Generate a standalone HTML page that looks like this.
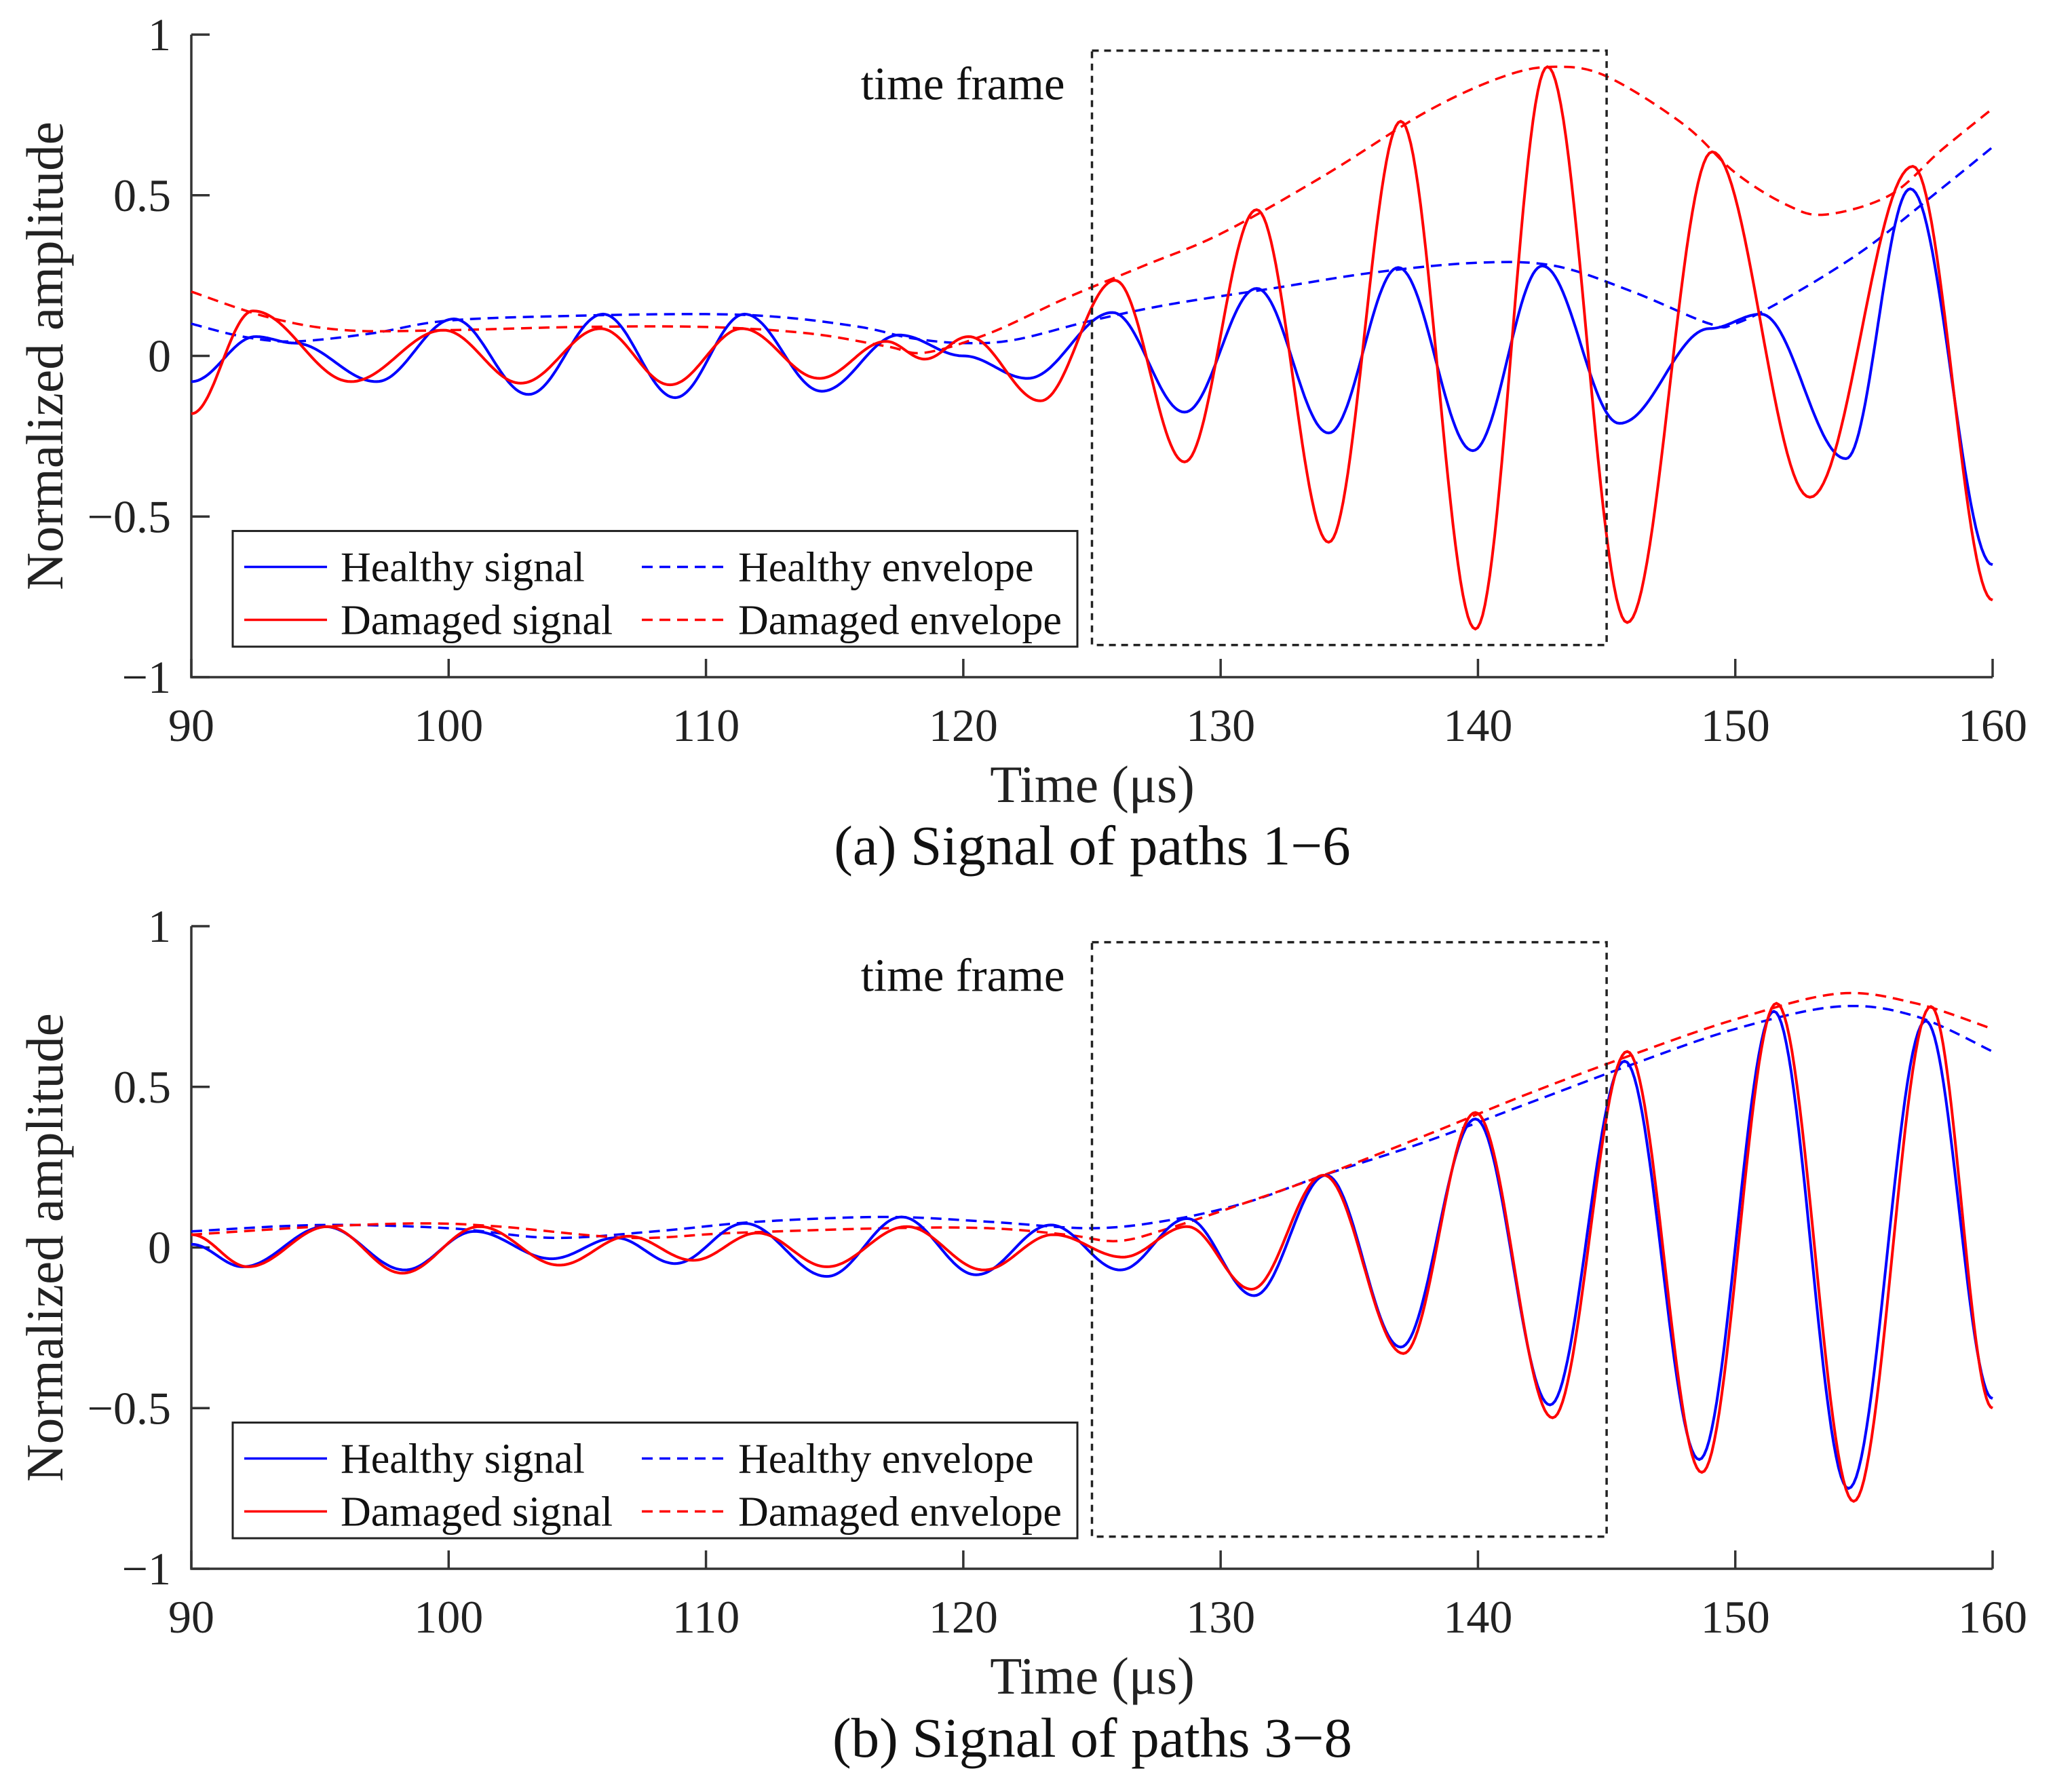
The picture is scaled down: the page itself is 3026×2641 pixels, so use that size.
<!DOCTYPE html>
<html><head><meta charset="utf-8"><style>
html,body{margin:0;padding:0;background:#fff;}
svg{display:block;font-family:"Liberation Serif",serif;}
</style></head><body>
<svg id="chart" width="3026" height="2641" viewBox="0 0 3026 2641"></svg>
<script>
// ----- Panel (a) data: paths 1-6 -----
const aHealthyT = [90,92.5,94,97.2,100.2,103.1,106,108.8,111.5,114.5,117.5,120,122.5,125.8,128.6,131.4,134.2,136.9,139.8,142.5,145.5,149,151,154.3,156.8,160];
const aHealthyV = [-0.08,0.06,0.04,-0.08,0.115,-0.12,0.13,-0.13,0.13,-0.11,0.065,0.0,-0.07,0.135,-0.175,0.21,-0.24,0.275,-0.295,0.28,-0.21,0.085,0.13,-0.32,0.52,-0.65];
const aDamagedT = [90,92.4,96.2,99.8,102.8,105.9,108.6,111.4,114.4,117,118.5,120.2,123,125.9,128.6,131.4,134.2,137,139.9,142.7,145.8,149.1,152.9,156.9,160];
const aDamagedV = [-0.18,0.14,-0.08,0.08,-0.085,0.085,-0.09,0.085,-0.07,0.045,-0.01,0.06,-0.14,0.235,-0.33,0.455,-0.58,0.73,-0.85,0.9,-0.83,0.635,-0.44,0.59,-0.76];
const aHealthyEnvT = [90,92,94,97,100,105,110,113,116,118,120,122,125,128,132,136,140,143,146,149,150,152,155,158,160];
const aHealthyEnvV = [0.1,0.06,0.045,0.07,0.11,0.125,0.13,0.12,0.09,0.055,0.04,0.05,0.11,0.16,0.21,0.26,0.29,0.28,0.2,0.1,0.1,0.18,0.33,0.52,0.65];
const aDamagedEnvT = [90,93,96,100,105,110,114,117,118.5,121,124,127,130,134,138,141,143,145,148,150,152,153.5,156,158,160];
const aDamagedEnvV = [0.2,0.12,0.08,0.08,0.09,0.09,0.07,0.03,0.01,0.07,0.18,0.28,0.38,0.56,0.76,0.87,0.9,0.87,0.72,0.57,0.47,0.44,0.5,0.64,0.77];
// ----- Panel (b) data: paths 3-8 -----
const bHealthyT = [90,92,95.2,98.3,101,104,106.5,108.8,111.5,114.7,117.6,120.5,123.4,126.1,128.7,131.3,134.1,137,139.9,142.8,145.7,148.6,151.5,154.4,157.4,160];
const bHealthyV = [0.01,-0.06,0.065,-0.07,0.05,-0.035,0.03,-0.05,0.075,-0.09,0.095,-0.085,0.07,-0.07,0.09,-0.15,0.225,-0.31,0.4,-0.49,0.58,-0.66,0.735,-0.75,0.705,-0.47];
const bDamagedT = [90,92.2,95.3,98.2,101.2,104.3,107,109.5,112,114.7,117.8,120.8,123.5,126.2,128.7,131.2,134,137.1,139.9,142.9,145.8,148.7,151.6,154.6,157.6,160];
const bDamagedV = [0.04,-0.06,0.065,-0.08,0.065,-0.055,0.035,-0.04,0.045,-0.06,0.065,-0.07,0.04,-0.03,0.065,-0.13,0.225,-0.33,0.42,-0.53,0.61,-0.7,0.76,-0.79,0.75,-0.5];
const bHealthyEnvT = [90,95,100,104,108,112,117,121,125,128,131,134,138,142,146,150,154,157,160];
const bHealthyEnvV = [0.05,0.07,0.06,0.03,0.05,0.08,0.095,0.08,0.06,0.085,0.14,0.225,0.33,0.45,0.57,0.68,0.75,0.72,0.61];
const bDamagedEnvT = [90,95,99,102,107,111,117,121,124,126,128,131,134,138,142,146,150,154,157,160];
const bDamagedEnvV = [0.04,0.065,0.075,0.065,0.03,0.045,0.06,0.06,0.04,0.02,0.06,0.14,0.225,0.35,0.48,0.6,0.71,0.79,0.76,0.68];
// ----- axes -----
const xTicks = [90,100,110,120,130,140,150,160];
const yTicks = [1,0.5,0,-0.5,-1];
const yTickLabels = ["1","0.5","0","\u22120.5","\u22121"];
const frameStart = 125, frameEnd = 145, frameTop = 0.95, frameBottom = -0.9;

const NS = "http://www.w3.org/2000/svg";
const svg = document.getElementById('chart');
function mk(tag, attrs, parent){const e=document.createElementNS(NS,tag);for(const k in attrs)e.setAttribute(k,attrs[k]);(parent||svg).appendChild(e);return e;}

const X0=282, X1=2937;
function xScale(t){return X0+(t-90)/70*(X1-X0);}

function cosPath(T,V,ys){
  let d='';
  for(let i=0;i<T.length-1;i++){
    const n=30;
    for(let k=(i===0?0:1);k<=n;k++){
      const s=k/n, t=T[i]+(T[i+1]-T[i])*s, v=V[i]+(V[i+1]-V[i])*(1-Math.cos(Math.PI*s))/2;
      d+=(d?'L':'M')+xScale(t).toFixed(1)+','+ys(v).toFixed(1);
    }
  }
  return d;
}
function crPath(T,V,ys){
  const P=T.map((t,i)=>[xScale(t),ys(V[i])]);
  let d='M'+P[0][0].toFixed(1)+','+P[0][1].toFixed(1);
  for(let i=0;i<P.length-1;i++){
    const p0=P[Math.max(0,i-1)],p1=P[i],p2=P[i+1],p3=P[Math.min(P.length-1,i+2)];
    const c1=[p1[0]+(p2[0]-p0[0])/6,p1[1]+(p2[1]-p0[1])/6];
    const c2=[p2[0]-(p3[0]-p1[0])/6,p2[1]-(p3[1]-p1[1])/6];
    d+='C'+c1.map(v=>v.toFixed(1)).join(',')+' '+c2.map(v=>v.toFixed(1)).join(',')+' '+p2[0].toFixed(1)+','+p2[1].toFixed(1);
  }
  return d;
}

function panel(id, yTop, yBot, hT,hV,dT,dV,heT,heV,deT,deV, caption, xlabY, capY){
  const ys=v=>yBot-(v+1)/2*(yBot-yTop);
  const g=mk('g',{});
  
  
  const ax=mk('path',{d:`M${X0},${yTop}L${X0},${yBot}L${X1},${yBot}`,fill:'none',stroke:'#333',"stroke-width":3.5},g);
  
  
  xTicks.forEach(t=>{
    const x=xScale(t);
    const tk=mk('line',{x1:x,x2:x,y1:yBot,y2:yBot-27,stroke:'#333',"stroke-width":3.5},g);
    
    
    const tl=mk('text',{x:x,y:yBot+94,"font-size":68,"text-anchor":"middle",fill:'#222'},g);
    tl.textContent=String(t);
    
    
  });
  yTicks.forEach((v,i)=>{
    const y=ys(v);
    const tk=mk('line',{x1:X0,x2:X0+27,y1:y,y2:y,stroke:'#333',"stroke-width":3.5},g);
    
    
    const tl=mk('text',{x:252,y:y+23,"font-size":68,"text-anchor":"end",fill:'#222'},g);
    tl.textContent=yTickLabels[i];
    
    
  });
  const he=mk('path',{d:crPath(heT,heV,ys),fill:'none',stroke:'#0000ff',"stroke-width":3.5,"stroke-dasharray":"16,10"},g);
  
  
  const de=mk('path',{d:crPath(deT,deV,ys),fill:'none',stroke:'#ff0000',"stroke-width":3.5,"stroke-dasharray":"16,10"},g);
  
  
  const hs=mk('path',{d:cosPath(hT,hV,ys),fill:'none',stroke:'#0000ff',"stroke-width":4},g);
  
  
  const ds=mk('path',{d:cosPath(dT,dV,ys),fill:'none',stroke:'#ff0000',"stroke-width":4},g);
  
  
  const fx0=xScale(frameStart),fx1=xScale(frameEnd);
  const fr=mk('rect',{x:fx0,y:ys(frameTop),width:fx1-fx0,height:ys(frameBottom)-ys(frameTop),fill:'none',stroke:'#222',"stroke-width":3.5,"stroke-dasharray":"10,8"},g);
  
  
  const ft=mk('text',{x:fx0-40,y:ys(frameTop)+72,"font-size":69,"text-anchor":"end",fill:'#111'},g);
  ft.textContent='time frame';
  
  
  const lg=mk('g',{},g);
  
  
  const ly0=ys(-0.545), ly1=ys(-0.905);
  mk('rect',{x:343,y:ly0,width:1245,height:ly1-ly0,fill:'#fff',stroke:'#222',"stroke-width":3},lg);
  const rows=[ly0+53,ly0+131];
  const entries=[[360,rows[0],'#0000ff',false,'Healthy signal'],[360,rows[1],'#ff0000',false,'Damaged signal'],[946,rows[0],'#0000ff',true,'Healthy envelope'],[946,rows[1],'#ff0000',true,'Damaged envelope']];
  entries.forEach(e=>{
    const eg=mk('g',{},lg);
    
    
    const a={x1:e[0],x2:e[0]+122,y1:e[1],y2:e[1],stroke:e[2],"stroke-width":3.5};
    if(e[3])a["stroke-dasharray"]="16,10";
    mk('line',a,eg);
    const t=mk('text',{x:e[0]+142,y:e[1]+21,"font-size":62,fill:'#111'},eg);
    t.textContent=e[4];
  });
  const xl=mk('text',{x:1610,y:xlabY,"font-size":77,"text-anchor":"middle",fill:'#222'},g);
  xl.textContent='Time (\u03bcs)';
  
  
  const yc=ys(0);
  const yl=mk('text',{x:0,y:0,"font-size":77,"text-anchor":"middle",fill:'#222',transform:`translate(92,${yc}) rotate(-90)`},g);
  yl.textContent='Normalized amplitude';
  
  
  const cp=mk('text',{x:1610,y:capY,"font-size":83,"text-anchor":"middle",fill:'#111'},g);
  cp.textContent=caption;
  
  
}
panel('a',51,998,aHealthyT,aHealthyV,aDamagedT,aDamagedV,aHealthyEnvT,aHealthyEnvV,aDamagedEnvT,aDamagedEnvV,'(a) Signal of paths 1\u22126',1182,1274);
panel('b',1365,2312,bHealthyT,bHealthyV,bDamagedT,bDamagedV,bHealthyEnvT,bHealthyEnvV,bDamagedEnvT,bDamagedEnvV,'(b) Signal of paths 3\u22128',2496,2589);
</script>
</body></html>
